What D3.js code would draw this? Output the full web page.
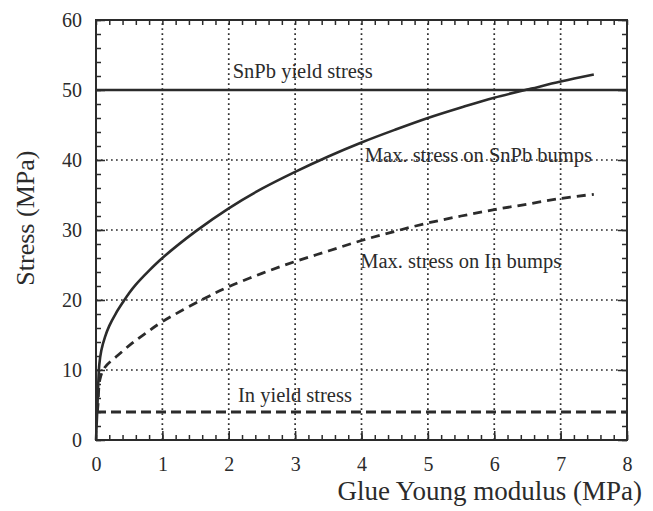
<!DOCTYPE html>
<html lang="en">
<head>
    <meta charset="utf-8">
    <title>Stress vs glue modulus</title>
    <script src="https://d3js.org/d3.v7.min.js"></script>
    <style>
        body { margin: 0; background: #fff; }
        text { font-family: "Liberation Serif", "Times New Roman", serif; fill: #2b2b2b; }
    </style>
</head>
<body>
<script type="text/javascript">
    // values
    var snpbModulus = [0, 0.02, 0.035, 0.05, 0.08, 0.135, 0.2, 0.3, 0.4, 0.5, 0.6, 0.8, 1, 1.5, 2, 2.5, 3, 3.5, 4, 4.5, 5, 5.5, 6, 6.56, 7, 7.5];
    var snpbStress  = [0, 4.5, 8.3, 10.8, 12.8, 14.7, 16.3, 18.1, 19.6, 21, 22.2, 24.2, 26, 29.8, 33.1, 35.9, 38.3, 40.5, 42.5, 44.3, 46, 47.5, 48.9, 50.2, 51.2, 52.2];

    var inModulus = [0.02, 0.03, 0.06, 0.135, 0.33, 0.54, 0.74, 1, 1.59, 2, 2.5, 3, 3.5, 4, 4.5, 5, 5.5, 6, 6.5, 7, 7.5];
    var inStress  = [4, 5, 8.7, 10.4, 12.1, 13.8, 15.2, 16.9, 20, 21.9, 23.8, 25.5, 27, 28.5, 29.8, 31, 32, 32.9, 33.7, 34.5, 35.1];

    var snpbYield = 50;
    var inYield = 4;

    var xTicks = [0, 1, 2, 3, 4, 5, 6, 7, 8];
    var yTicks = [0, 10, 20, 30, 40, 50, 60];

    var labels = [
        {text: "SnPb yield stress", x: 2.06, y: 51.7},
        {text: "Max. stress on SnPb bumps", x: 4.05, y: 39.7},
        {text: "Max. stress on In bumps", x: 3.98, y: 24.6},
        {text: "In yield stress", x: 2.14, y: 5.4}
    ];

    var width = 653, height = 511;
    var margin = {top: 20, right: 26, bottom: 71, left: 96};
    var ink = "#2b2b2b";

    var svg = d3.select("body")
            .append("svg")
            .attr("width", width)
            .attr("height", height);

    var x = d3.scaleLinear().domain([0, 8]).range([margin.left, width - margin.right]);
    var y = d3.scaleLinear().domain([0, 60]).range([height - margin.bottom, margin.top]);

    //dotted grid
    svg.append("g")
        .selectAll("line")
        .data(xTicks.slice(1, -1))
        .enter()
        .append("line")
        .attr("x1", d => x(d)).attr("x2", d => x(d))
        .attr("y1", y(0)).attr("y2", y(60))
        .attr("stroke", ink).attr("stroke-width", 1.7)
        .attr("stroke-dasharray", "1.7,3.3");

    svg.append("g")
        .selectAll("line")
        .data(yTicks.slice(1, -1))
        .enter()
        .append("line")
        .attr("x1", x(0)).attr("x2", x(8))
        .attr("y1", d => y(d)).attr("y2", d => y(d))
        .attr("stroke", ink).attr("stroke-width", 1.7)
        .attr("stroke-dasharray", "1.7,3.3");

    //inward ticks on all four sides
    var xMinor = d3.range(0, 8.001, 0.2);
    var yMinor = d3.range(0, 60.001, 2);

    function tickAxis(axis, g) {
        g.call(axis);
        g.select(".domain").remove();
        g.selectAll("line").attr("stroke", ink).attr("stroke-width", 1.5);
    }

    tickAxis(d3.axisBottom(x).tickValues(xMinor).tickSize(-5).tickFormat(""),
        svg.append("g").attr("transform", "translate(0," + y(0) + ")"));
    tickAxis(d3.axisTop(x).tickValues(xMinor).tickSize(-5).tickFormat(""),
        svg.append("g").attr("transform", "translate(0," + y(60) + ")"));
    tickAxis(d3.axisLeft(y).tickValues(yMinor).tickSize(-5).tickFormat(""),
        svg.append("g").attr("transform", "translate(" + x(0) + ",0)"));
    tickAxis(d3.axisRight(y).tickValues(yMinor).tickSize(-5).tickFormat(""),
        svg.append("g").attr("transform", "translate(" + x(8) + ",0)"));

    tickAxis(d3.axisBottom(x).tickValues(xTicks).tickSize(-9).tickPadding(22).tickFormat(d3.format("d")),
        svg.append("g").attr("class", "xlab").attr("transform", "translate(0," + y(0) + ")"));
    tickAxis(d3.axisLeft(y).tickValues(yTicks).tickSize(-9).tickPadding(14).tickFormat(d3.format("d")),
        svg.append("g").attr("class", "ylab").attr("transform", "translate(" + x(0) + ",0)"));
    tickAxis(d3.axisRight(y).tickValues(yTicks).tickSize(-9).tickFormat(""),
        svg.append("g").attr("transform", "translate(" + x(8) + ",0)"));

    svg.selectAll(".xlab text, .ylab text")
        .style("font-family", '"Liberation Serif", serif')
        .style("font-size", "20px")
        .attr("fill", ink);
    svg.selectAll(".xlab text").attr("dy", "0.45em");

    //frame
    svg.append("rect")
        .attr("x", x(0)).attr("y", y(60))
        .attr("width", x(8) - x(0)).attr("height", y(0) - y(60))
        .attr("fill", "none").attr("stroke", ink).attr("stroke-width", 2);

    //yield lines
    svg.append("line")
        .attr("x1", x(0)).attr("x2", x(8))
        .attr("y1", y(snpbYield)).attr("y2", y(snpbYield))
        .attr("stroke", ink).attr("stroke-width", 2.5);

    svg.append("line")
        .attr("x1", x(0)).attr("x2", x(8))
        .attr("y1", y(inYield)).attr("y2", y(inYield))
        .attr("stroke", ink).attr("stroke-width", 2.8)
        .attr("stroke-dasharray", "10,5");

    //curves
    var line = d3.line()
        .x(d => x(d[0]))
        .y(d => y(d[1]))
        .curve(d3.curveCatmullRom.alpha(0.5));

    svg.append("path")
        .attr("d", line(d3.zip(snpbModulus, snpbStress)))
        .attr("fill", "none").attr("stroke", ink).attr("stroke-width", 2.6);

    svg.append("path")
        .attr("d", line(d3.zip(inModulus, inStress)))
        .attr("fill", "none").attr("stroke", ink).attr("stroke-width", 2.8)
        .attr("stroke-dasharray", "9,6");

    //labels
    svg.selectAll(".note")
        .data(labels)
        .enter()
        .append("text")
        .attr("class", "note")
        .attr("x", d => x(d.x))
        .attr("y", d => y(d.y))
        .style("font-size", "20.5px")
        .text(d => d.text);

    //axis titles
    svg.append("text")
        .attr("x", 642)
        .attr("y", 500)
        .attr("text-anchor", "end")
        .style("font-size", "27px")
        .text("Glue Young modulus (MPa)");

    svg.append("text")
        .attr("transform", "translate(34," + y(31.7) + ") rotate(-90)")
        .attr("text-anchor", "middle")
        .style("font-size", "26px")
        .text("Stress (MPa)");
</script>
</body>
</html>
